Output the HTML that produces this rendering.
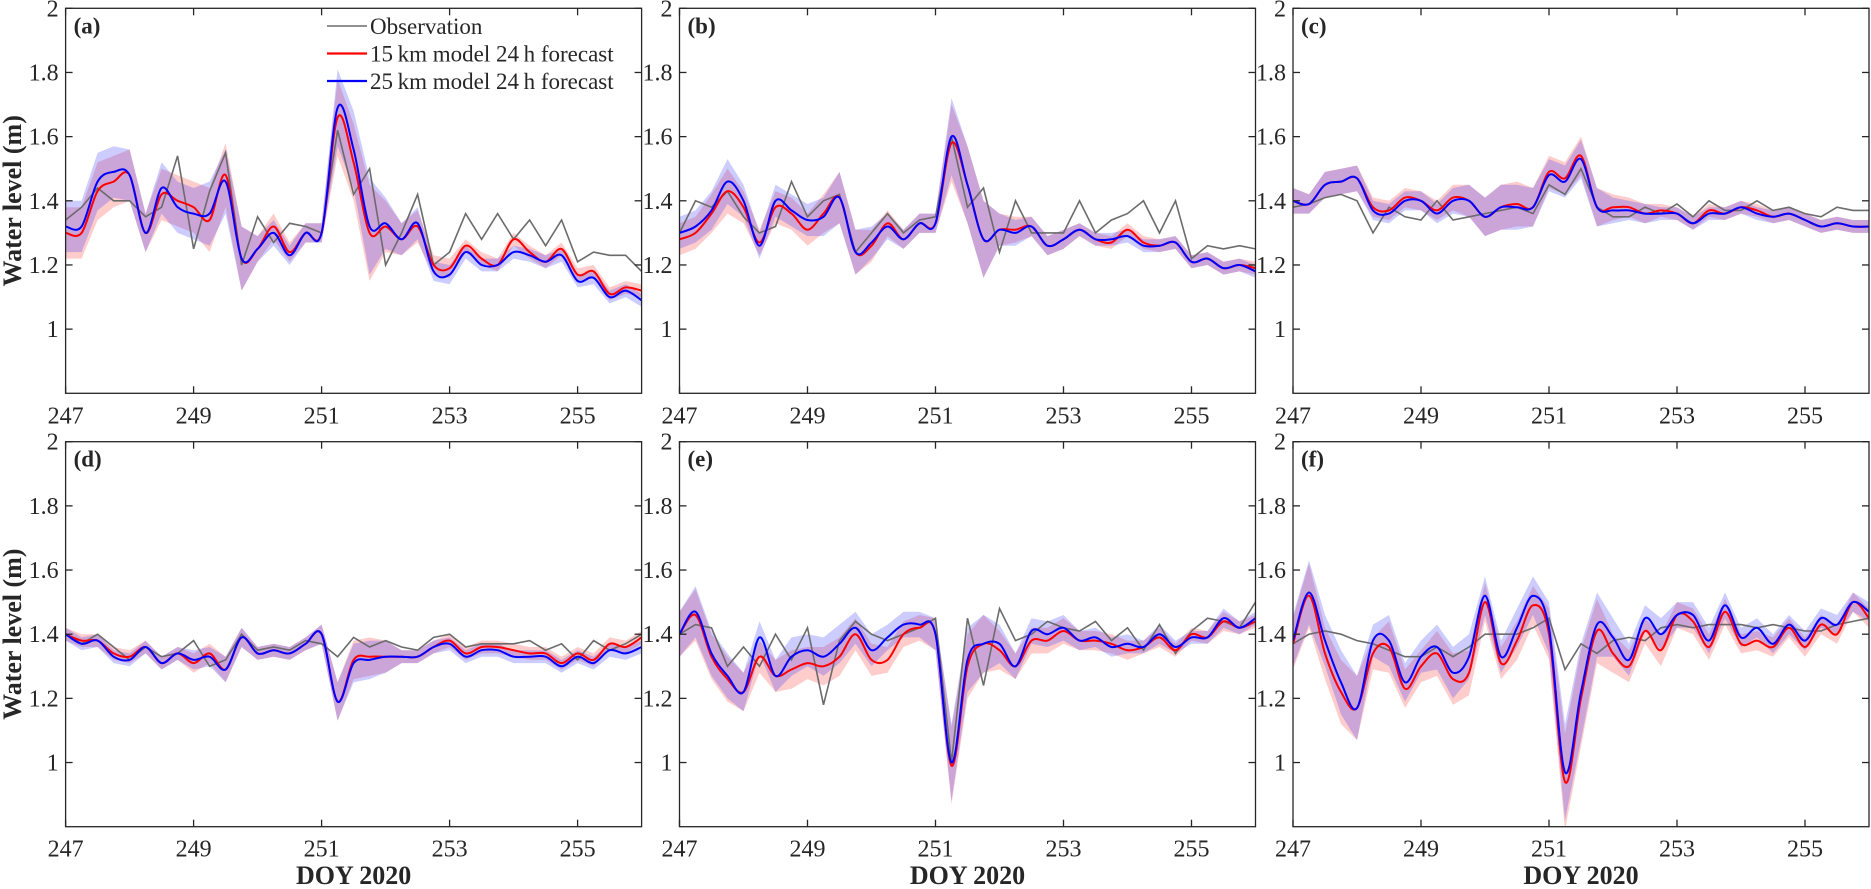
<!DOCTYPE html>
<html><head><meta charset="utf-8"><style>
html,body{margin:0;padding:0;background:#fff}
svg{display:block}
text{font-family:"Liberation Serif",serif;fill:#262626}
</style></head><body>
<svg id="chart" width="1871" height="889" xmlns="http://www.w3.org/2000/svg"></svg>
<script>
const days = [247,247.25,247.5,247.75,248,248.25,248.5,248.75,249,249.25,249.5,249.75,250,250.25,250.5,250.75,251,251.25,251.5,251.75,252,252.25,252.5,252.75,253,253.25,253.5,253.75,254,254.25,254.5,254.75,255,255.25,255.5,255.75,256];
const xTicks = [247,249,251,253,255];
const yTicks = [1,1.2,1.4,1.6,1.8,2];
const yTickLabels = ["1","1.2","1.4","1.6","1.8","2"];
const panelLabels = ["(a)","(b)","(c)","(d)","(e)","(f)"];
const legendLabels = ["Observation","15\u2009km model 24\u2009h forecast","25\u2009km model 24\u2009h forecast"];

const obsA = [1.34,1.38,1.44,1.40,1.40,1.35,1.38,1.54,1.25,1.43,1.55,1.20,1.35,1.27,1.33,1.32,1.30,1.62,1.42,1.50,1.20,1.30,1.42,1.20,1.24,1.36,1.28,1.36,1.28,1.34,1.26,1.34,1.21,1.24,1.23,1.23,1.18];
const m15A = [1.30,1.30,1.43,1.46,1.48,1.30,1.42,1.40,1.38,1.34,1.48,1.22,1.25,1.32,1.24,1.30,1.30,1.66,1.52,1.30,1.32,1.28,1.32,1.20,1.19,1.26,1.22,1.20,1.28,1.24,1.21,1.25,1.17,1.18,1.11,1.13,1.12];
const m25A = [1.32,1.32,1.46,1.49,1.48,1.30,1.44,1.38,1.36,1.36,1.46,1.22,1.25,1.30,1.23,1.30,1.30,1.69,1.56,1.32,1.33,1.28,1.33,1.18,1.17,1.24,1.20,1.20,1.24,1.23,1.21,1.23,1.15,1.16,1.10,1.12,1.09];
const sprA = [0.08,0.08,0.09,0.08,0.08,0.06,0.08,0.08,0.08,0.10,0.10,0.10,0.04,0.04,0.03,0.03,0.03,0.12,0.12,0.15,0.08,0.05,0.05,0.03,0.03,0.02,0.02,0.02,0.02,0.02,0.02,0.02,0.02,0.02,0.02,0.02,0.02];

const obsB = [1.30,1.40,1.38,1.43,1.35,1.30,1.32,1.46,1.35,1.40,1.42,1.24,1.30,1.36,1.30,1.34,1.35,1.60,1.38,1.44,1.24,1.40,1.30,1.30,1.30,1.40,1.30,1.34,1.36,1.40,1.30,1.40,1.22,1.26,1.25,1.26,1.25];
const m15B = [1.28,1.30,1.36,1.43,1.38,1.27,1.38,1.36,1.31,1.36,1.41,1.24,1.26,1.33,1.28,1.33,1.33,1.58,1.45,1.28,1.31,1.31,1.32,1.26,1.28,1.31,1.28,1.27,1.31,1.27,1.26,1.27,1.21,1.22,1.19,1.20,1.19];
const m25B = [1.30,1.32,1.37,1.46,1.40,1.26,1.40,1.37,1.34,1.35,1.41,1.24,1.27,1.32,1.28,1.33,1.33,1.60,1.45,1.28,1.31,1.30,1.32,1.26,1.28,1.31,1.28,1.28,1.29,1.26,1.26,1.27,1.21,1.22,1.19,1.20,1.18];
const sprB = [0.05,0.05,0.06,0.07,0.05,0.04,0.05,0.05,0.05,0.06,0.08,0.07,0.05,0.04,0.03,0.03,0.03,0.12,0.12,0.12,0.05,0.04,0.03,0.03,0.03,0.02,0.02,0.02,0.02,0.02,0.02,0.02,0.02,0.02,0.02,0.02,0.02];

const obsC = [1.38,1.39,1.41,1.42,1.40,1.30,1.38,1.35,1.34,1.40,1.34,1.35,1.36,1.37,1.38,1.36,1.45,1.42,1.50,1.38,1.35,1.35,1.38,1.36,1.39,1.35,1.40,1.37,1.37,1.40,1.37,1.38,1.36,1.35,1.38,1.37,1.37];
const m15C = [1.40,1.39,1.45,1.46,1.47,1.38,1.37,1.41,1.40,1.37,1.41,1.40,1.35,1.38,1.39,1.38,1.49,1.47,1.54,1.38,1.38,1.38,1.36,1.37,1.36,1.33,1.37,1.36,1.38,1.37,1.35,1.36,1.34,1.32,1.33,1.32,1.32];
const m25C = [1.40,1.39,1.45,1.46,1.47,1.37,1.36,1.40,1.40,1.36,1.40,1.40,1.35,1.38,1.38,1.38,1.48,1.46,1.53,1.38,1.37,1.37,1.36,1.36,1.36,1.33,1.36,1.36,1.38,1.36,1.35,1.36,1.34,1.32,1.33,1.32,1.32];
const sprC = [0.04,0.03,0.04,0.04,0.04,0.03,0.03,0.03,0.03,0.03,0.04,0.05,0.06,0.07,0.07,0.06,0.05,0.05,0.06,0.06,0.04,0.03,0.03,0.02,0.02,0.02,0.02,0.02,0.02,0.02,0.02,0.02,0.02,0.02,0.02,0.02,0.02];

const obsD = [1.40,1.37,1.40,1.36,1.32,1.36,1.33,1.34,1.38,1.30,1.32,1.40,1.35,1.36,1.35,1.38,1.37,1.33,1.39,1.36,1.38,1.36,1.35,1.39,1.40,1.36,1.37,1.37,1.37,1.38,1.35,1.37,1.32,1.38,1.35,1.37,1.40];
const m15D = [1.40,1.38,1.38,1.34,1.33,1.36,1.31,1.34,1.31,1.34,1.29,1.39,1.34,1.35,1.34,1.37,1.40,1.19,1.32,1.33,1.33,1.33,1.33,1.36,1.38,1.34,1.36,1.36,1.35,1.34,1.34,1.31,1.34,1.32,1.37,1.36,1.39];
const m25D = [1.40,1.37,1.38,1.33,1.32,1.36,1.31,1.34,1.32,1.33,1.29,1.39,1.34,1.35,1.34,1.37,1.40,1.19,1.31,1.32,1.33,1.33,1.33,1.36,1.37,1.33,1.35,1.35,1.33,1.33,1.33,1.30,1.33,1.31,1.35,1.34,1.36];
const sprD = [0.02,0.02,0.02,0.02,0.02,0.02,0.02,0.02,0.03,0.03,0.04,0.03,0.02,0.02,0.02,0.02,0.03,0.06,0.06,0.06,0.05,0.02,0.02,0.02,0.02,0.02,0.02,0.02,0.02,0.02,0.02,0.02,0.02,0.02,0.02,0.02,0.02];

const obsE = [1.40,1.43,1.42,1.30,1.36,1.30,1.40,1.32,1.42,1.18,1.38,1.44,1.40,1.38,1.40,1.42,1.45,1.00,1.45,1.24,1.48,1.38,1.40,1.44,1.42,1.41,1.44,1.38,1.42,1.35,1.43,1.34,1.41,1.45,1.44,1.42,1.50];
const m15E = [1.40,1.46,1.33,1.26,1.22,1.33,1.27,1.29,1.31,1.30,1.33,1.40,1.32,1.32,1.40,1.42,1.40,0.99,1.30,1.37,1.35,1.30,1.38,1.38,1.41,1.38,1.38,1.37,1.35,1.36,1.39,1.35,1.40,1.39,1.44,1.42,1.44];
const m25E = [1.40,1.47,1.34,1.27,1.22,1.39,1.27,1.33,1.35,1.33,1.37,1.42,1.35,1.39,1.43,1.43,1.40,1.00,1.32,1.37,1.37,1.30,1.41,1.40,1.42,1.38,1.39,1.36,1.37,1.36,1.40,1.36,1.39,1.39,1.45,1.42,1.45];
const sprE = [0.07,0.08,0.07,0.07,0.06,0.05,0.05,0.06,0.05,0.06,0.06,0.05,0.05,0.04,0.04,0.04,0.05,0.12,0.10,0.09,0.06,0.04,0.04,0.04,0.04,0.03,0.03,0.03,0.03,0.02,0.03,0.02,0.02,0.02,0.03,0.02,0.02];

const obsF = [1.37,1.40,1.41,1.40,1.38,1.37,1.35,1.33,1.33,1.36,1.33,1.36,1.40,1.40,1.40,1.42,1.45,1.29,1.37,1.34,1.38,1.39,1.38,1.42,1.43,1.42,1.43,1.43,1.43,1.42,1.43,1.42,1.41,1.41,1.43,1.44,1.45];
const m15F = [1.37,1.52,1.34,1.22,1.17,1.34,1.36,1.23,1.30,1.34,1.26,1.28,1.50,1.31,1.38,1.49,1.40,0.94,1.20,1.41,1.34,1.30,1.41,1.35,1.46,1.44,1.36,1.47,1.37,1.38,1.36,1.42,1.36,1.43,1.40,1.50,1.45];
const m25F = [1.38,1.53,1.38,1.25,1.17,1.38,1.38,1.25,1.33,1.36,1.28,1.33,1.52,1.33,1.42,1.52,1.42,0.97,1.22,1.43,1.39,1.32,1.45,1.40,1.46,1.46,1.38,1.49,1.39,1.42,1.37,1.43,1.38,1.45,1.43,1.50,1.47];
const sprF = [0.08,0.10,0.08,0.10,0.10,0.05,0.08,0.06,0.05,0.07,0.08,0.07,0.06,0.05,0.06,0.06,0.08,0.15,0.15,0.10,0.06,0.05,0.04,0.05,0.04,0.04,0.04,0.04,0.03,0.03,0.03,0.03,0.03,0.03,0.03,0.03,0.03];

const obsAll = [obsA,obsB,obsC,obsD,obsE,obsF];
const m15All = [m15A,m15B,m15C,m15D,m15E,m15F];
const m25All = [m25A,m25B,m25C,m25D,m25E,m25F];
const sprAll = [sprA,sprB,sprC,sprD,sprE,sprF];

const NS = "http://www.w3.org/2000/svg";
const svg = document.getElementById('chart');
const colX = [65.6, 679.5, 1293];
const rowY = [8.3, 441.7];
const PW = 576, PH = 385;
const X0 = 247, X1 = 256, Y0 = 0.8, Y1 = 2;

function mk(tag, attrs, parent){
  const e = document.createElementNS(NS, tag);
  for (const k in attrs) e.setAttribute(k, attrs[k]);
  (parent||svg).appendChild(e);
  return e;
}
function smoothPath(pts){
  let d = "M" + pts[0][0].toFixed(1) + "," + pts[0][1].toFixed(1);
  for (let i=0;i<pts.length-1;i++){
    const p0 = pts[Math.max(0,i-1)], p1 = pts[i], p2 = pts[i+1], p3 = pts[Math.min(pts.length-1,i+2)];
    const c1x = p1[0]+(p2[0]-p0[0])/6, c1y = p1[1]+(p2[1]-p0[1])/6;
    const c2x = p2[0]-(p3[0]-p1[0])/6, c2y = p2[1]-(p3[1]-p1[1])/6;
    d += " C"+c1x.toFixed(1)+","+c1y.toFixed(1)+" "+c2x.toFixed(1)+","+c2y.toFixed(1)+" "+p2[0].toFixed(1)+","+p2[1].toFixed(1);
  }
  return d;
}

for (let p=0;p<6;p++){
  const L = colX[p%3], T = rowY[Math.floor(p/3)];
  const xs = v => L + (v - X0)/(X1 - X0)*PW;
  const ys = v => T + (Y1 - v)/(Y1 - Y0)*PH;
  const g = mk('g', {});
  
  
  const defs = mk('defs', {}, g);
  const cp = mk('clipPath', {id:'clip'+p}, defs);
  mk('rect', {x:L, y:T, width:PW, height:PH}, cp);
  const plot = mk('g', {'clip-path':'url(#clip'+p+')'}, g);

  const bands = [[m15All[p],'rgba(255,40,40,0.24)','band-15km'],[m25All[p],'rgba(40,40,255,0.24)','band-25km']];
  bands.forEach(b => {
    const up = days.map((d,i)=>[xs(d), ys(b[0][i]+sprAll[p][i])]);
    const lo = days.map((d,i)=>[xs(d), ys(b[0][i]-sprAll[p][i])]).reverse();
    const pts = up.concat(lo);
    const poly = mk('polygon', {points: pts.map(q=>q[0].toFixed(1)+","+q[1].toFixed(1)).join(' '), fill:b[1], stroke:'none'}, plot);
    
    
  });
  const obs = mk('polyline', {points: days.map((d,i)=>xs(d).toFixed(1)+","+ys(obsAll[p][i]).toFixed(1)).join(' '), fill:'none', stroke:'#6b6b6b', 'stroke-width':1.6}, plot);
  
  
  const r = mk('path', {d: smoothPath(days.map((d,i)=>[xs(d), ys(m15All[p][i])])), fill:'none', stroke:'#ff0000', 'stroke-width':2}, plot);
  
  
  const bl = mk('path', {d: smoothPath(days.map((d,i)=>[xs(d), ys(m25All[p][i])])), fill:'none', stroke:'#0000ff', 'stroke-width':2}, plot);
  
  

  const box = mk('rect', {x:L, y:T, width:PW, height:PH, fill:'none', stroke:'#262626', 'stroke-width':1.3}, g);
  
  
  xTicks.forEach(t => {
    const x = xs(t);
    mk('line', {x1:x, x2:x, y1:T+PH, y2:T+PH-7, stroke:'#262626', 'stroke-width':1.3}, g);
    mk('line', {x1:x, x2:x, y1:T, y2:T+7, stroke:'#262626', 'stroke-width':1.3}, g);
    const tx = mk('text', {x:x, y:T+PH+30, 'text-anchor':'middle', 'font-size':24}, g);
    tx.textContent = String(t);
    
    
  });
  yTicks.forEach((t,i) => {
    const y = ys(t);
    mk('line', {x1:L, x2:L+7, y1:y, y2:y, stroke:'#262626', 'stroke-width':1.3}, g);
    mk('line', {x1:L+PW, x2:L+PW-7, y1:y, y2:y, stroke:'#262626', 'stroke-width':1.3}, g);
    const ty = mk('text', {x:L-7, y:y+8, 'text-anchor':'end', 'font-size':24}, g);
    ty.textContent = yTickLabels[i];
    
    
  });
  const pl = mk('text', {x:L+8, y:T+25, 'font-size':23, 'font-weight':'bold', fill:'#000'}, g);
  pl.textContent = panelLabels[p];
  
  

  if (p%3===0){
    const yl = mk('text', {x:0, y:0, 'font-size':26, 'font-weight':'bold', 'text-anchor':'middle', transform:'translate(21,'+(T+PH/2)+') rotate(-90)'}, g);
    yl.textContent = 'Water level (m)';
    
    
  }
  if (p>=3){
    const xl = mk('text', {x:L+PW/2, y:884, 'font-size':26, 'font-weight':'bold', 'text-anchor':'middle'}, g);
    xl.textContent = 'DOY 2020';
    
    
  }
}

const legColors = ['#6b6b6b','#ff0000','#0000ff'];
const lg = mk('g', {});


legendLabels.forEach((lab,i) => {
  const y = 26 + i*27.5;
  const ln = mk('line', {x1:327, x2:367, y1:y, y2:y, stroke:legColors[i], 'stroke-width':i===0?1.6:2.2}, lg);
  
  
  const tx = mk('text', {x:370, y:y+8, 'font-size':23}, lg);
  tx.textContent = lab;
  
  
});
</script>
</body></html>
